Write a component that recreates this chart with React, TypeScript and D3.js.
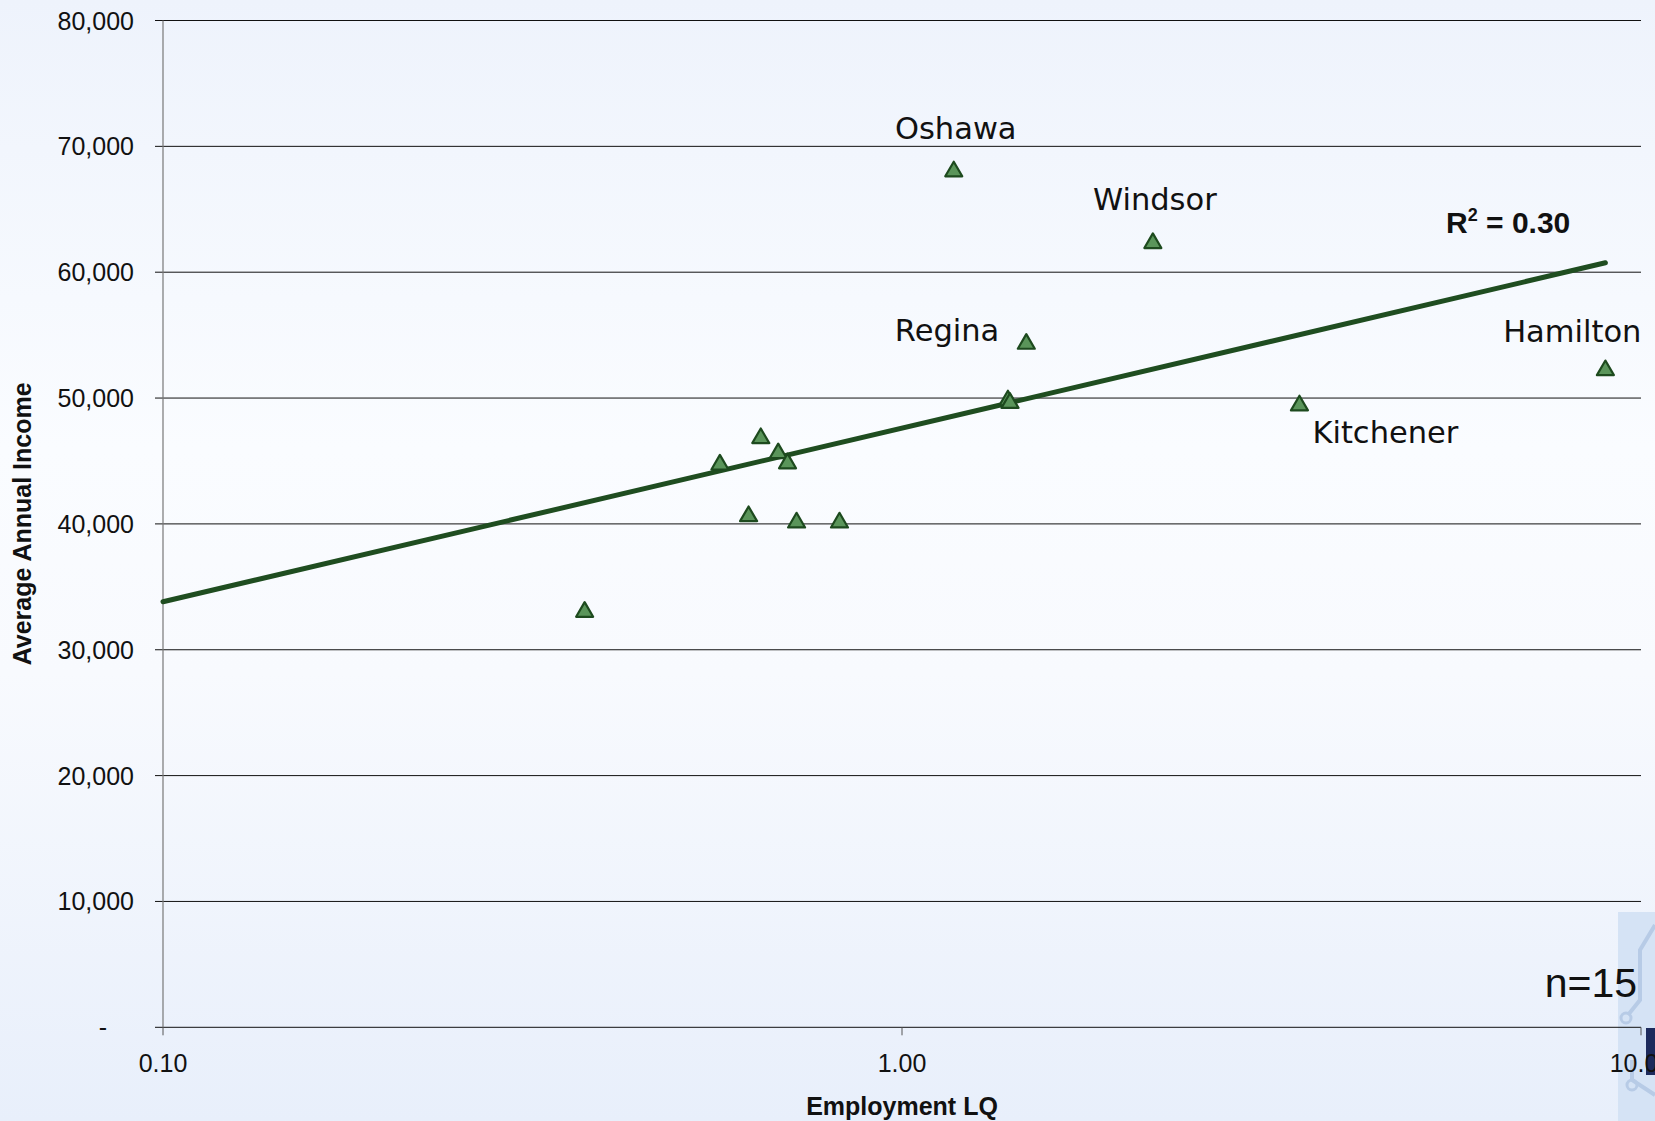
import React from "react";
import * as d3 from "d3";

// ---- data ----
const cityNames = ["Oshawa", "Windsor", "Regina", "", "", "Kitchener", "Hamilton", "", "", "", "", "", "", "", ""];
const employmentLQ = [1.175, 2.185, 1.473, 1.391, 1.40, 3.45, 8.95, 0.567, 0.644, 0.68, 0.70, 0.62, 0.72, 0.823, 0.372];
const avgIncome = [68200, 62500, 54500, 50000, 49800, 49600, 52400, 44900, 47000, 45800, 45000, 40800, 40300, 40300, 33200];
const yTicks = [0, 10000, 20000, 30000, 40000, 50000, 60000, 70000, 80000];
const xTicks = [0.1, 1, 10];

// ---- layout ----
const W = 1655;
const H = 1121;
const M = { left: 163, right: 1641, top: 20.5, bottom: 1027.3 };

const labelLayout: Record<string, { dx: number; dy: number; anchor: string }> = {
  Oshawa: { dx: 2, dy: -30, anchor: "middle" },
  Windsor: { dx: 2, dy: -31, anchor: "middle" },
  Regina: { dx: -27, dy: 0, anchor: "end" },
  Hamilton: { dx: 36, dy: -26, anchor: "end" },
  Kitchener: { dx: 13, dy: 40, anchor: "start" },
};

const triangle = {
  draw(context: any, size: number) {
    const s = Math.sqrt(size);
    const h = s * 0.86;
    context.moveTo(0, -h / 2);
    context.lineTo(s / 2, h / 2);
    context.lineTo(-s / 2, h / 2);
    context.closePath();
  },
};

export default function App() {
  const x = d3.scaleLog().domain([0.1, 10]).range([M.left, M.right]);
  const y = d3.scaleLinear().domain([0, 80000]).range([M.bottom, M.top]);

  // least-squares fit of income on log10(LQ)
  const lx = employmentLQ.map((v) => Math.log10(v));
  const mx = d3.mean(lx)!;
  const my = d3.mean(avgIncome)!;
  let sxy = 0, sxx = 0, syy = 0;
  lx.forEach((v, i) => {
    sxy += (v - mx) * (avgIncome[i] - my);
    sxx += (v - mx) ** 2;
    syy += (avgIncome[i] - my) ** 2;
  });
  const slope = sxy / sxx;
  const intercept = my - slope * mx;
  const r2 = (sxy * sxy) / (sxx * syy);
  const trendXs = [0.1, d3.max(employmentLQ)!];
  const trendPath = d3
    .line<number>()
    .x((d) => x(d))
    .y((d) => y(intercept + slope * Math.log10(d)))(trendXs)!;

  const sym = d3.symbol().type(triangle as any).size(289)()!;
  const fmt = d3.format(",");

  return (
    <svg
      width={W}
      height={H}
      style={{ position: "absolute", left: 0, top: 0, fontFamily: "'Liberation Sans', Arial, sans-serif" }}
    >
      <defs>
        <linearGradient id="bg" x1="0" y1="0" x2="0" y2="1">
          <stop offset="0%" stopColor="#eef3fc" />
          <stop offset="40%" stopColor="#fafcff" />
          <stop offset="60%" stopColor="#f8fafe" />
          <stop offset="100%" stopColor="#e8effb" />
        </linearGradient>
      </defs>
      <rect x={0} y={0} width={W} height={H} fill="url(#bg)" />

      {/* corner logo fragment */}
      <g>
        <rect x={1618} y={912} width={37} height={209} fill="#d5e3f5" />
        <path d="M1655,925 L1640,950 L1640,1000 L1628,1015" fill="none" stroke="#b7cbe6" strokeWidth={4} />
        <path d="M1655,1095 L1632,1080 L1632,1060" fill="none" stroke="#b7cbe6" strokeWidth={4} />
        <circle cx={1626} cy={1018} r={5} fill="none" stroke="#b7cbe6" strokeWidth={3} />
        <circle cx={1632} cy={1085} r={5} fill="none" stroke="#b7cbe6" strokeWidth={3} />
        <rect x={1646} y={1028} width={9} height={47} fill="#1c2a5c" />
      </g>

      {/* gridlines + y ticks */}
      {yTicks.map((t) => (
        <g key={t}>
          <line x1={M.left - 8} x2={M.right} y1={y(t)} y2={y(t)} stroke="#111" strokeWidth={1} />
          <text
            x={t === 0 ? M.left - 56 : M.left - 29}
            y={y(t)}
            textAnchor="end"
            dominantBaseline="central"
            fontSize={25}
            fill="#111"
          >
            {t === 0 ? "-" : fmt(t)}
          </text>
        </g>
      ))}

      {/* y axis line */}
      <line x1={M.left} x2={M.left} y1={M.top} y2={M.bottom} stroke="#777" strokeWidth={1.2} />

      {/* x ticks */}
      {xTicks.map((t) => (
        <g key={t}>
          <line x1={x(t)} x2={x(t)} y1={M.bottom} y2={M.bottom + 8} stroke="#555" strokeWidth={1} />
          <text x={x(t)} y={M.bottom + 45} textAnchor="middle" fontSize={25} fill="#111">
            {d3.format(".2f")(t)}
          </text>
        </g>
      ))}

      {/* axis titles */}
      <text x={(M.left + 1641) / 2} y={1115} textAnchor="middle" fontSize={25} fontWeight="bold" fill="#111">
        Employment LQ
      </text>
      <text
        transform={`translate(31,${(M.top + M.bottom) / 2}) rotate(-90)`}
        textAnchor="middle"
        fontSize={25}
        fontWeight="bold"
        fill="#111"
      >
        Average Annual Income
      </text>

      {/* trendline */}
      <path d={trendPath} fill="none" stroke="#1f4d20" strokeWidth={5} strokeLinecap="round" />

      {/* points */}
      {employmentLQ.map((v, i) => (
        <path
          key={i}
          d={sym}
          transform={`translate(${x(v)},${y(avgIncome[i])})`}
          fill="#5a955a"
          stroke="#1d4a1e"
          strokeWidth={2.2}
          strokeLinejoin="round"
        />
      ))}

      {/* city labels */}
      {employmentLQ.map((v, i) => {
        const name = cityNames[i];
        if (!name) return null;
        const L = labelLayout[name];
        return (
          <text
            key={"l" + i}
            x={x(v) + L.dx}
            y={y(avgIncome[i]) + L.dy}
            textAnchor={L.anchor as any}
            fontSize={30.5}
            fontFamily="'DejaVu Sans', Verdana, sans-serif"
            fill="#111"
          >
            {name}
          </text>
        );
      })}

      {/* R² */}
      <text x={1446} y={233} fontSize={30} fontWeight="bold" fill="#111">
        R<tspan fontSize={18} dy={-12}>2</tspan>
        <tspan dy={12}>{" = " + r2.toFixed(2)}</tspan>
      </text>

      {/* n */}
      <text x={1637} y={997} textAnchor="end" fontSize={41} fill="#111">
        {"n=" + employmentLQ.length}
      </text>
    </svg>
  );
}
